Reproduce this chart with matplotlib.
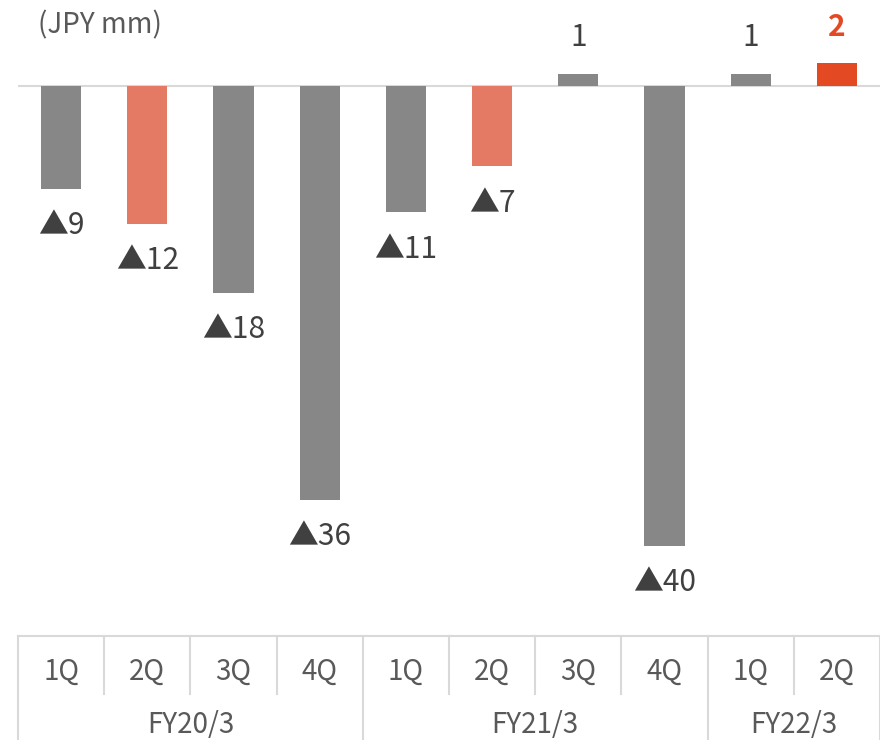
import matplotlib
matplotlib.use("Agg")
import matplotlib.pyplot as plt

plt.rcParams['font.family'] = ['Noto Sans CJK JP', 'DejaVu Sans']

quarters = ["1Q", "2Q", "3Q", "4Q", "1Q", "2Q", "3Q", "4Q", "1Q", "2Q"]
fiscal_years = ["FY20/3", "FY21/3", "FY22/3"]
year_sizes = [4, 4, 2]
values = [-9, -12, -18, -36, -11, -7, 1, -40, 1, 2]
labels = ["▲9", "▲12", "▲18", "▲36", "▲11", "▲7", "1", "▲40", "1", "2"]

GRAY = "#878787"
LIGHT_ORANGE = "#E47A63"
ORANGE = "#E34A24"
bar_colors = [GRAY, LIGHT_ORANGE, GRAY, GRAY, GRAY, LIGHT_ORANGE, GRAY, GRAY, GRAY, ORANGE]
label_colors = ["#404040"] * 9 + [ORANGE]
label_weights = ["normal"] * 9 + ["bold"]

W, H = 880, 740
fig = plt.figure(figsize=(W / 100, H / 100), dpi=100)

# plotting area: x 18..880 px, y 0..636 px from top
left, right = 18, 880
table_top = 636
ax = fig.add_axes([left / W, (H - table_top) / H, (right - left) / W, table_top / H])
px_per_unit = 11.5
zero_y = 85.5
ax.set_xlim(-0.5, len(values) - 0.5)
ax.set_ylim(-(table_top - zero_y) / px_per_unit, zero_y / px_per_unit)
ax.axis("off")

x = list(range(len(values)))
ax.bar(x, values, width=0.465, color=bar_colors, zorder=2)
ax.axhline(0, color="#d9d9d9", lw=1.5, zorder=1)

for xi, v, lab, c, w in zip(x, values, labels, label_colors, label_weights):
    off = 36 if v > 0 else -37
    ax.annotate(lab, (xi, v), xytext=(0, off), textcoords="offset pixels",
                ha="center", va="center", fontsize=21.5, color=c, fontweight=w)

fig.text(38 / W, 1 - 25 / H, "(JPY mm)", ha="left", va="center",
         fontsize=20, color="#595959")

# category table below the plot
tax = fig.add_axes([left / W, 0, (right - left) / W, (H - table_top) / H])
tax.set_xlim(-0.5, len(values) - 0.5)
tax.set_ylim(H, table_top)
tax.axis("off")
line_kw = dict(color="#d9d9d9", lw=1.5, clip_on=False)
tax.plot([-0.5, len(values) - 0.5], [table_top, table_top], **line_kw)

bounds = [-0.5]
for s in year_sizes:
    bounds.append(bounds[-1] + s)
for i in range(len(values) + 1):
    b = i - 0.5
    if b in bounds:
        tax.plot([b, b], [table_top, H], **line_kw)
    else:
        tax.plot([b, b], [table_top, 694], **line_kw)

for xi, q in zip(x, quarters):
    tax.text(xi, 672, q, ha="center", va="center", fontsize=20, color="#595959")

for i, fy in enumerate(fiscal_years):
    center = (bounds[i] + bounds[i + 1]) / 2
    tax.text(center, 725, fy, ha="center", va="center", fontsize=20, color="#595959")

fig.savefig("out.png", dpi=100)
